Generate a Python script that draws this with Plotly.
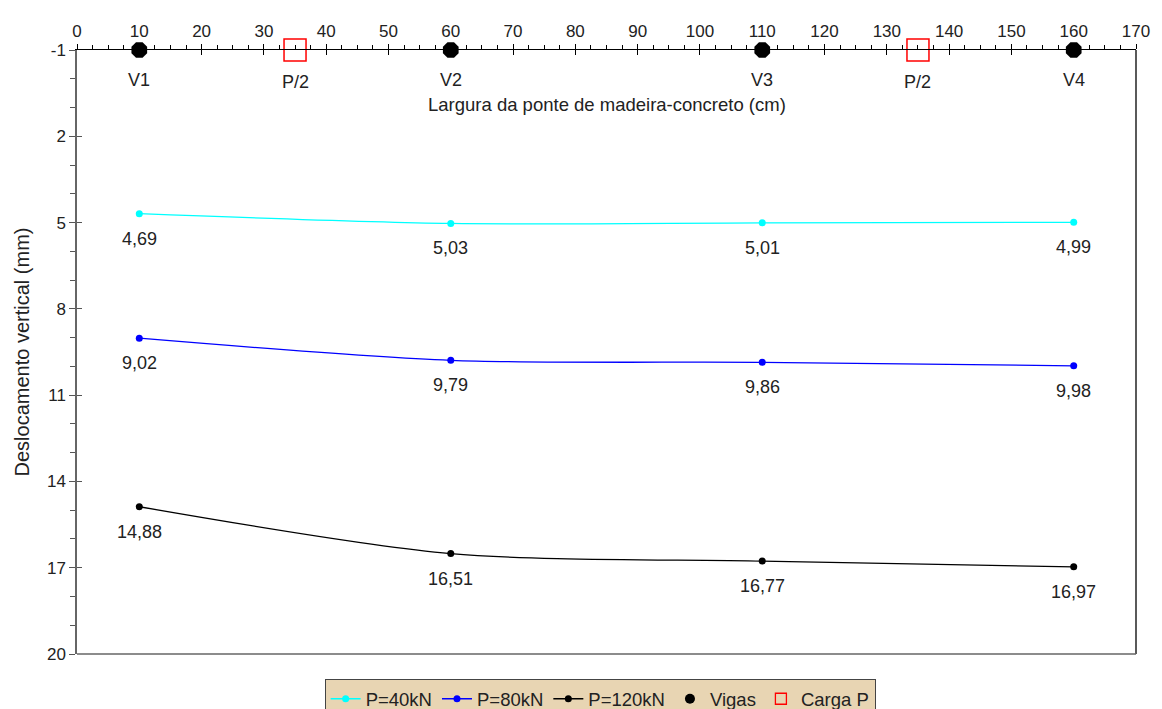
import plotly.graph_objects as go

# Positions along the bridge width (cm)
beam_x = [10, 60, 110, 160]
beam_labels = ["V1", "V2", "V3", "V4"]
load_x = [35, 135]
load_labels = ["P/2", "P/2"]
beam_level = -1

# Vertical displacement (mm) for each load case
disp_40 = [4.69, 5.03, 5.01, 4.99]
disp_80 = [9.02, 9.79, 9.86, 9.98]
disp_120 = [14.88, 16.51, 16.77, 16.97]

y_ticks = [-1, 2, 5, 8, 11, 14, 17, 20]
y_ticktext = ["-1", "2", "5", "8", "11", "14", "17", "20"]

FONT = "Liberation Sans, Arial, sans-serif"
TXT = "#222222"

series = [
    ("P=40kN", disp_40, "#00ffff"),
    ("P=80kN", disp_80, "#0000ff"),
    ("P=120kN", disp_120, "#000000"),
]

fig = go.Figure()

for name, vals, col in series:
    fig.add_trace(go.Scatter(
        x=beam_x, y=vals, name=name, mode="lines+markers",
        line=dict(color=col, width=1.3, shape="spline", smoothing=0.8),
        marker=dict(color=col, size=7),
    ))

# beams and load points on the deck line (legend entries drawn separately)
fig.add_trace(go.Scatter(
    x=beam_x, y=[beam_level] * len(beam_x), name="Vigas", mode="markers",
    marker=dict(color="black", size=17, symbol="octagon"), cliponaxis=False,
    showlegend=False,
))
fig.add_trace(go.Scatter(
    x=load_x, y=[beam_level] * len(load_x), name="Carga P", mode="markers",
    marker=dict(color="#ff0000", size=22, symbol="square-open",
                line=dict(color="#ff0000", width=1.5)),
    cliponaxis=False, showlegend=False,
))
fig.add_trace(go.Scatter(
    x=[None], y=[None], name="Vigas", mode="markers",
    marker=dict(color="black", size=10, symbol="circle"),
))
fig.add_trace(go.Scatter(
    x=[None], y=[None], name="Carga P", mode="markers",
    marker=dict(color="#ff0000", size=11, symbol="square-open",
                line=dict(color="#ff0000", width=1.3)),
))

annotations = []
for _, vals, _ in series:
    for xv, yv in zip(beam_x, vals):
        annotations.append(dict(
            x=xv, y=yv, xref="x", yref="y", text=f"{yv:.2f}".replace(".", ","),
            showarrow=False, yshift=-25, font=dict(size=18, color=TXT, family=FONT),
        ))
for xv, lab in zip(beam_x, beam_labels):
    annotations.append(dict(
        x=xv, y=beam_level, xref="x", yref="y", text=lab, showarrow=False,
        yshift=-30, font=dict(size=18, color=TXT, family=FONT),
    ))
for xv, lab in zip(load_x, load_labels):
    annotations.append(dict(
        x=xv, y=beam_level, xref="x", yref="y", text=lab, showarrow=False,
        yshift=-32, font=dict(size=18, color=TXT, family=FONT),
    ))
annotations.append(dict(
    x=0.5, y=0.909, xref="paper", yref="paper", yanchor="middle",
    text="Largura da ponte de madeira-concreto (cm)", showarrow=False,
    font=dict(size=18.5, color=TXT, family=FONT),
))

fig.update_layout(
    width=1162, height=709,
    margin=dict(l=77, r=26, t=50, b=55, autoexpand=False),
    paper_bgcolor="white", plot_bgcolor="white",
    font=dict(family=FONT, color=TXT, size=17),
    showlegend=True,
    legend=dict(
        orientation="h", x=0.494, xanchor="center",
        yref="container", y=0.042, yanchor="top",
        bgcolor="#e8d5b3", bordercolor="#444444", borderwidth=1,
        font=dict(size=18.5, color=TXT, family=FONT),
        itemwidth=30, tracegroupgap=0,
    ),
    annotations=annotations,
    xaxis=dict(
        side="top", range=[0, 170], tick0=0, dtick=10,
        ticks="outside", ticklen=5, tickcolor="black", tickwidth=1,
        minor=dict(ticks="outside", dtick=2.5, ticklen=4, tickcolor="black"),
        showline=True, linecolor="black", linewidth=1.3,
        showgrid=False, zeroline=False,
        tickfont=dict(size=17, color=TXT, family=FONT),
    ),
    xaxis2=dict(
        overlaying="x", side="top", range=[0, 170], tick0=0, dtick=10,
        ticks="inside", ticklen=5, tickcolor="black", showticklabels=False,
        showline=False, showgrid=False, zeroline=False,
    ),
    yaxis=dict(
        range=[20, -1], tickvals=y_ticks, ticktext=y_ticktext,
        ticks="outside", ticklen=6, tickcolor="#555555", tickwidth=1,
        minor=dict(ticks="outside", tick0=-1, dtick=1, ticklen=5, tickcolor="#555555"),
        showline=True, linecolor="#666666", linewidth=1.5,
        showgrid=False, zeroline=False,
        title=dict(text="Deslocamento vertical (mm)", font=dict(size=20, color=TXT, family=FONT), standoff=12),
        tickfont=dict(size=17, color=TXT, family=FONT),
    ),
    yaxis2=dict(
        overlaying="y", range=[20, -1], tickvals=y_ticks,
        ticks="inside", ticklen=5, tickcolor="#555555", showticklabels=False,
        showline=False, showgrid=False, zeroline=False,
    ),
    shapes=[
        dict(type="line", xref="paper", yref="paper", x0=1, x1=1, y0=0, y1=1,
             line=dict(color="black", width=1.3)),
        dict(type="line", xref="paper", yref="paper", x0=0, x1=1, y0=0, y1=0,
             line=dict(color="#666666", width=1.5)),
    ],
)

# invisible trace binding the overlay axes so their ticks are drawn
fig.add_trace(go.Scatter(x=[0], y=[20], xaxis="x2", yaxis="y2", mode="markers",
                         marker=dict(opacity=0), showlegend=False, hoverinfo="skip"))

fig.write_html("out.html")
